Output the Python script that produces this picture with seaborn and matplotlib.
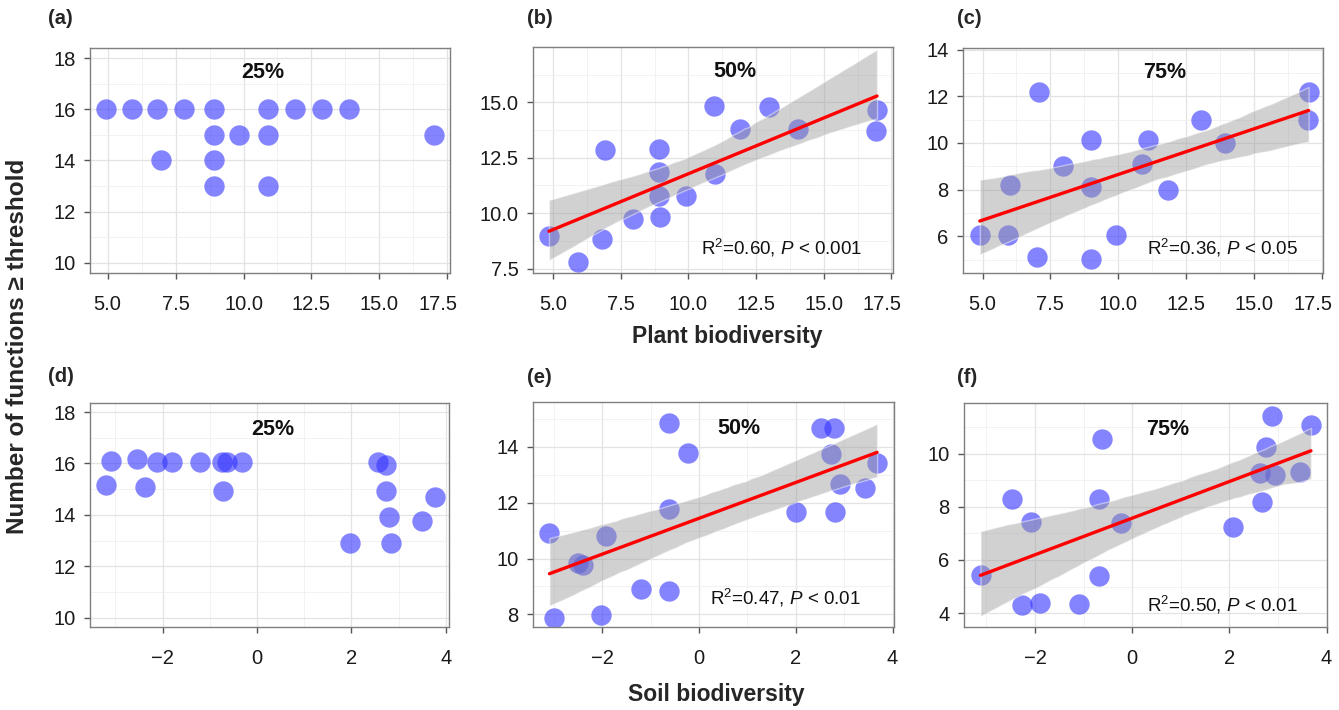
import numpy as np
import pandas as pd
import seaborn as sns
import matplotlib.pyplot as plt
import matplotlib.transforms as mtransforms
from matplotlib.ticker import AutoMinorLocator, FormatStrFormatter
from matplotlib.collections import PolyCollection

# plant biodiversity panels (a)-(c)
plant_a_x = [4.95, 5.9, 6.8, 7.8, 8.9, 10.9, 11.9, 12.9, 13.9, 8.9, 9.85, 10.9, 17.0, 6.95, 8.9, 8.9, 10.9]
plant_a_y = [16, 16, 16, 16, 16, 16, 16, 16, 16, 15, 15, 15, 15, 14, 14, 13, 13]
plant_b_x = [4.85, 5.92, 6.82, 6.93, 7.96, 8.92, 8.92, 8.92, 8.97, 9.93, 10.95, 11.0, 11.9, 12.97, 14.05, 16.97, 16.92]
plant_b_y = [8.96, 7.8, 8.84, 12.86, 9.74, 12.9, 11.88, 10.76, 9.83, 10.76, 14.84, 11.78, 13.79, 14.77, 13.79, 14.66, 13.72]
plant_c_x = [4.9, 5.94, 6.03, 7.08, 7.0, 7.96, 9.0, 8.98, 8.98, 9.92, 10.88, 11.09, 11.85, 13.04, 13.94, 17.02, 17.0]
plant_c_y = [6.04, 6.04, 8.19, 12.17, 5.11, 9.03, 10.14, 8.1, 5.03, 6.04, 9.1, 10.14, 8.0, 11.0, 10.0, 12.19, 10.97]

# soil biodiversity panels (d)-(f)
soil_d_x = [-3.1, -3.2, -2.54, -2.37, -2.13, -1.81, -1.2, -0.75, -0.63, -0.32, -0.73, 1.97, 2.57, 2.74, 2.74, 2.8, 2.85, 3.5, 3.77]
soil_d_y = [16.09, 15.16, 16.17, 15.07, 16.05, 16.05, 16.05, 16.05, 16.05, 16.05, 14.92, 12.89, 16.05, 15.94, 14.92, 13.9, 12.89, 13.77, 14.68]
soil_e_x = [-3.09, -2.99, -2.5, -2.4, -1.93, -2.03, -1.19, -0.61, -0.61, -0.61, -0.23, 2.01, 2.53, 2.79, 2.72, 2.91, 2.81, 3.43, 3.68]
soil_e_y = [10.92, 7.88, 9.84, 9.78, 10.8, 7.97, 8.92, 8.84, 11.76, 14.84, 13.77, 11.65, 14.67, 14.67, 13.74, 12.66, 11.65, 12.54, 13.43]
soil_f_x = [-3.12, -2.48, -2.27, -2.09, -1.9, -1.09, -0.69, -0.69, -0.61, -0.23, 2.08, 2.67, 2.64, 2.76, 2.88, 2.95, 3.45, 3.68]
soil_f_y = [5.44, 8.28, 4.31, 7.44, 4.38, 4.35, 8.31, 5.38, 10.53, 7.4, 7.25, 8.19, 9.25, 10.25, 11.4, 9.21, 9.31, 11.06]

thresholds = ['25%', '50%', '75%']
stats_text = [None, 'R$^{2}$=0.60, $\\mathit{P}$ < 0.001', 'R$^{2}$=0.36, $\\mathit{P}$ < 0.05',
              None, 'R$^{2}$=0.47, $\\mathit{P}$ < 0.01', 'R$^{2}$=0.50, $\\mathit{P}$ < 0.01']
panel_names = ['(a)', '(b)', '(c)', '(d)', '(e)', '(f)']

sns.set_style('white')
plt.rcParams['font.family'] = ['Liberation Sans', 'DejaVu Sans']
plt.rcParams['mathtext.fontset'] = 'custom'
plt.rcParams['mathtext.rm'] = 'Liberation Sans'
plt.rcParams['mathtext.it'] = 'Liberation Sans:italic'

W, H = 1339, 710
fig = plt.figure(figsize=(W / 100, H / 100), dpi=100)

# axes boxes in pixels: left, top, right, bottom
boxes = [(90, 48, 450, 273), (533, 47, 893, 273), (963, 48, 1323, 273),
         (90, 403, 449, 627), (533, 402, 894, 627), (964, 403, 1327, 627)]
xs = [plant_a_x, plant_b_x, plant_c_x, soil_d_x, soil_e_x, soil_f_x]
ys = [plant_a_y, plant_b_y, plant_c_y, soil_d_y, soil_e_y, soil_f_y]
xlims = [(4.35, 17.6), (4.26, 17.56), (4.28, 17.55), (-3.54, 4.07), (-3.43, 4.03), (-3.46, 4.01)]
ylims = [(9.6, 18.4), (7.3, 17.5), (4.43, 14.07), (9.64, 18.35), (7.55, 15.6), (3.48, 11.9)]
yticks = [[10, 12, 14, 16, 18], [7.5, 10, 12.5, 15], [6, 8, 10, 12, 14],
          [10, 12, 14, 16, 18], [8, 10, 12, 14], [4, 6, 8, 10]]
label_pos = [(0.48, 0.89), (0.56, 0.89), (0.56, 0.89), (0.51, 0.88), (0.57, 0.88), (0.56, 0.88)]
stat_pos = [None, (0.915, 0.11), (0.93, 0.11), None, (0.908, 0.13), (0.92, 0.10)]

for i in range(6):
    l, t, r, b = boxes[i]
    ax = fig.add_axes([l / W, 1 - b / H, (r - l) / W, (b - t) / H])
    df = pd.DataFrame({'x': xs[i], 'y': ys[i]})
    sns.scatterplot(data=df, x='x', y='y', ax=ax, color='#3333ff', alpha=0.6,
                    s=215, linewidth=0, zorder=1)
    if i not in (0, 3):
        sns.regplot(data=df, x='x', y='y', ax=ax, scatter=False, ci=95, seed=3,
                    color='red', line_kws={'linewidth': 2.4, 'zorder': 3})
        for c in ax.collections:
            if isinstance(c, PolyCollection):
                c.set_facecolor('#9a9a9a')
                c.set_alpha(0.45)
                c.set_zorder(2)
        ax.text(stat_pos[i][0], stat_pos[i][1], stats_text[i], transform=ax.transAxes,
                ha='right', va='center', fontsize=13.5, color='#111111', zorder=5)
    ax.set_xlim(xlims[i])
    ax.set_ylim(ylims[i])
    if i < 3:
        ax.set_xticks([5, 7.5, 10, 12.5, 15, 17.5])
        ax.xaxis.set_major_formatter(FormatStrFormatter('%.1f'))
    else:
        ax.set_xticks([-2, 0, 2, 4])
    ax.set_yticks(yticks[i])
    if i == 1:
        ax.yaxis.set_major_formatter(FormatStrFormatter('%.1f'))
    ax.xaxis.set_minor_locator(AutoMinorLocator(2))
    ax.yaxis.set_minor_locator(AutoMinorLocator(2))
    ax.grid(True, which='major', color='#e3e3e3', linewidth=0.9, zorder=0)
    ax.grid(True, which='minor', color='#f0f0f0', linewidth=0.6, zorder=0)
    ax.set_axisbelow(True)
    ax.tick_params(which='major', direction='out', length=4.5, width=1, color='#555555',
                   labelsize=14.5, labelcolor='#1a1a1a', bottom=True, left=True)
    ax.tick_params(axis='x', pad=11)
    ax.tick_params(axis='y', pad=6)
    ax.tick_params(which='minor', length=0)
    if i < 3:
        # last label sits a bit to the left of its tick, as in the original
        last = ax.get_xticklabels()[-1]
        last.set_transform(last.get_transform() +
                           mtransforms.ScaledTranslation(-0.09, 0, fig.dpi_scale_trans))
    for sp in ax.spines.values():
        sp.set_color('#7f7f7f')
        sp.set_linewidth(1.0)
    ax.set_xlabel('')
    ax.set_ylabel('')
    ax.text(label_pos[i][0], label_pos[i][1], thresholds[i % 3], transform=ax.transAxes,
            ha='center', va='center', fontsize=15.5, fontweight='bold', color='#111111', zorder=5)

panel_xy = [(48, 18), (527, 18), (957, 18), (48, 376), (527, 378), (957, 378)]
for name, (px, py) in zip(panel_names, panel_xy):
    fig.text(px / W, 1 - py / H, name, ha='left', va='center', fontsize=14.5, fontweight='bold')

fig.text(727 / W, 1 - 336 / H, 'Plant biodiversity', ha='center', va='center',
         fontsize=16.5, fontweight='bold')
fig.text(716 / W, 1 - 695 / H, 'Soil biodiversity', ha='center', va='center',
         fontsize=16.5, fontweight='bold')
fig.text(18 / W, 1 - 346 / H, 'Number of functions \u2265 threshold', rotation=90,
         ha='center', va='center', fontsize=17.5, fontweight='bold')

fig.savefig('out.png', dpi=100)
